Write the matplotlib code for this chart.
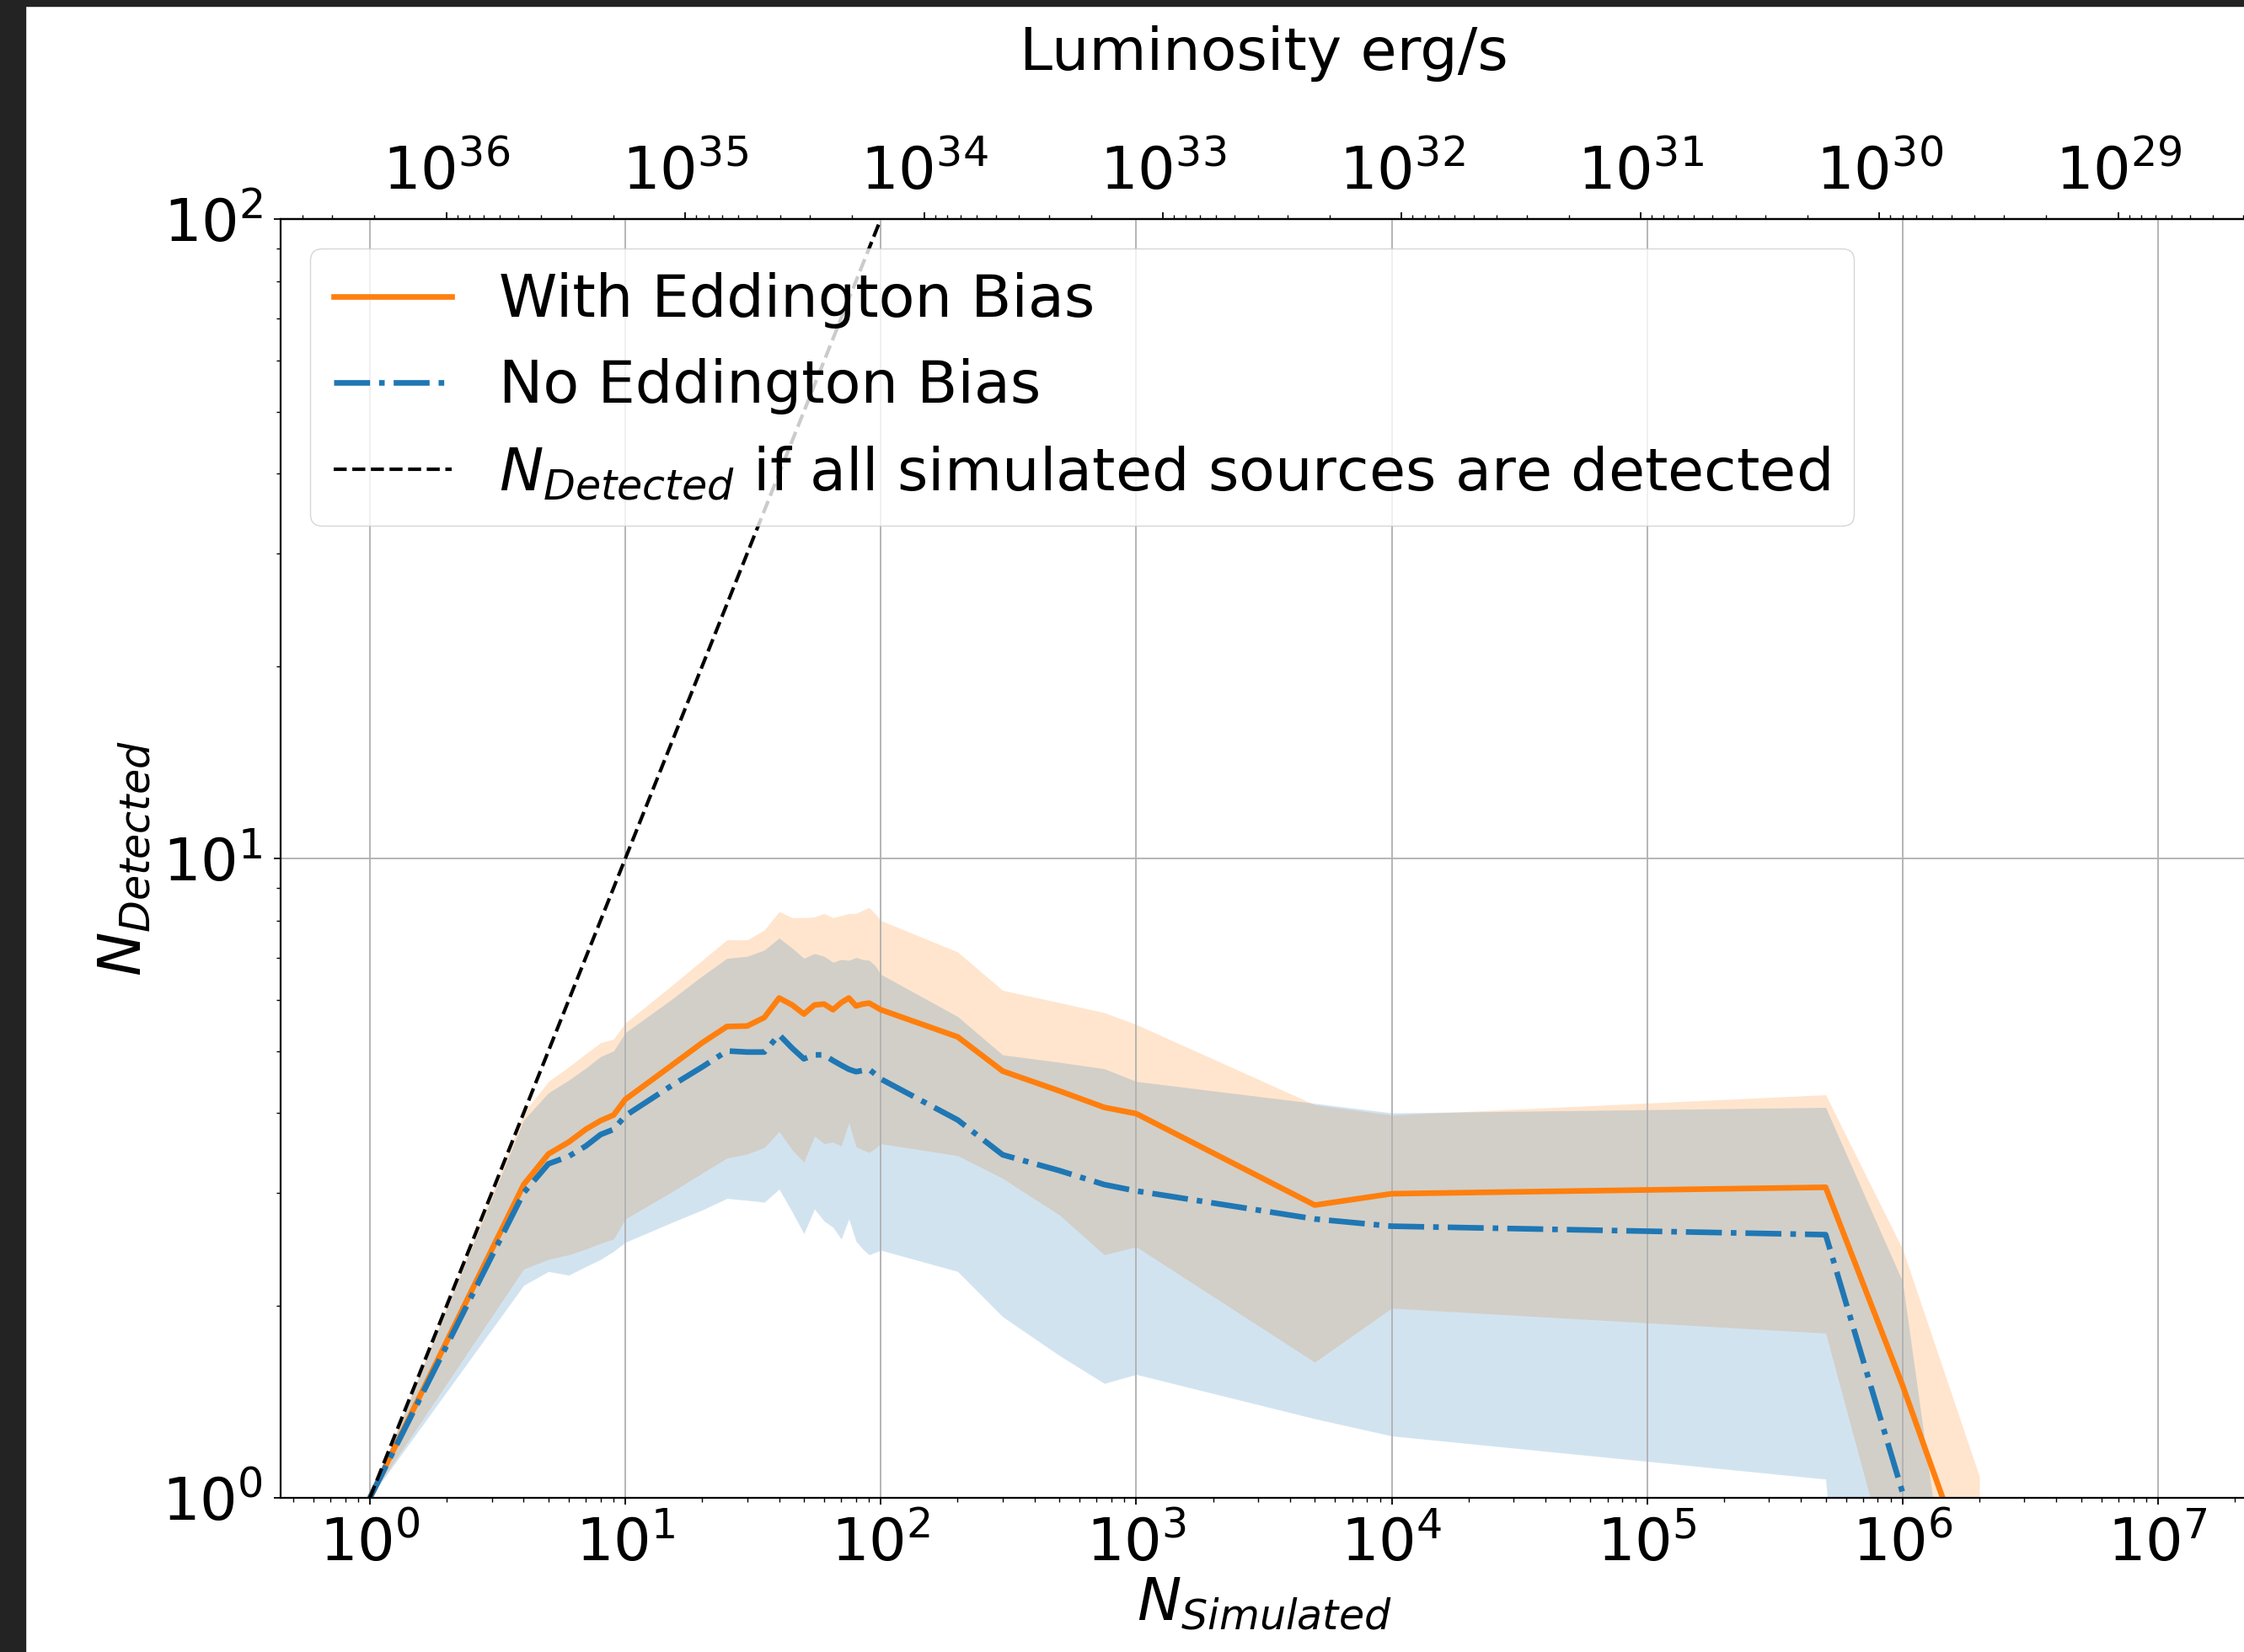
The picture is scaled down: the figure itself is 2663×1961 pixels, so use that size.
import numpy as np
import matplotlib.pyplot as plt
from matplotlib.patches import Rectangle

n_sim = [1, 4, 5, 6, 7, 8, 9, 10,
         15, 20, 25, 30, 35, 40, 45, 50, 55, 60, 65, 70, 75, 80, 85, 90, 95, 100,
         200, 300, 500, 750, 1000, 5000, 1e4, 5e5, 1e6, 2e6]

with_bias = [1, 3.09, 3.45, 3.6, 3.77, 3.89, 3.97, 4.2,
             4.73, 5.15, 5.46, 5.47, 5.64, 6.05, 5.9, 5.71, 5.9, 5.92, 5.8, 5.95, 6.05, 5.88, 5.92, 5.94, 5.87, 5.8,
             5.26, 4.65, 4.33, 4.08, 3.99, 2.87, 2.99, 3.06, 1.50, 0.69]
with_hi = [1, 4.0, 4.48, 4.72, 4.95, 5.15, 5.22, 5.53,
           6.3, 6.93, 7.46, 7.46, 7.73, 8.26, 8.08, 8.08, 8.1, 8.2, 8.08, 8.14, 8.2, 8.2, 8.3, 8.38, 8.2, 8.0,
           7.14, 6.22, 5.95, 5.74, 5.5, 4.12, 3.97, 4.27, 2.45, 1.08]
with_lo = [1, 2.28, 2.36, 2.40, 2.45, 2.5, 2.54, 2.73,
           3.0, 3.22, 3.40, 3.45, 3.53, 3.74, 3.5, 3.35, 3.68, 3.58, 3.6, 3.55, 3.86, 3.54, 3.5, 3.47, 3.52, 3.58,
           3.43, 3.16, 2.77, 2.40, 2.47, 1.63, 1.98, 1.81, 0.65, 0.3]

no_bias = [1, 3.0, 3.33, 3.42, 3.55, 3.7, 3.77, 3.96,
           4.4, 4.72, 5.0, 4.98, 4.98, 5.3, 5.05, 4.86, 4.93, 4.93, 4.83, 4.75, 4.68, 4.64, 4.66, 4.68, 4.6, 4.52,
           3.9, 3.44, 3.25, 3.09, 3.02, 2.73, 2.66, 2.58, 1.02, 0.3]
no_hi = [1, 3.9, 4.3, 4.5, 4.7, 4.9, 5.0, 5.34,
         6.0, 6.55, 6.98, 7.03, 7.19, 7.51, 7.24, 6.98, 7.1, 7.03, 6.88, 6.95, 6.93, 7.0, 6.95, 6.93, 6.8, 6.59,
         5.66, 4.93, 4.8, 4.69, 4.48, 4.14, 4.0, 4.08, 2.18, 0.3]
no_lo = [1, 2.15, 2.26, 2.23, 2.3, 2.36, 2.43, 2.51,
         2.69, 2.82, 2.94, 2.92, 2.9, 3.04, 2.8, 2.59, 2.83, 2.71, 2.65, 2.54, 2.73, 2.52, 2.45, 2.40, 2.42, 2.44,
         2.26, 1.92, 1.67, 1.51, 1.56, 1.33, 1.25, 1.07, 0.05, 0.05]

ideal_n = [1, 100]

# luminosity scale on top axis: log L = a - b log N
lum_a = 36.32
lum_b = 1.0695


def n_to_lum(n):
    with np.errstate(divide='ignore', invalid='ignore'):
        return 10 ** (lum_a - lum_b * np.log10(n))


def lum_to_n(lum):
    with np.errstate(divide='ignore', invalid='ignore'):
        return 10 ** ((lum_a - np.log10(lum)) / lum_b)


fs = 50.5
plt.rcParams['font.size'] = fs

fig = plt.figure(figsize=(26.63, 19.61), dpi=100)
ax = fig.add_axes([0.1250, 0.0933, 0.8765, 0.7741])

ax.fill_between(n_sim, with_lo, with_hi, color='C1', alpha=0.2, lw=0)
ax.fill_between(n_sim, no_lo, no_hi, color='C0', alpha=0.2, lw=0)
ax.plot(n_sim, with_bias, color='C1', lw=4.8, label='With Eddington Bias')
ax.plot(n_sim, no_bias, color='C0', lw=4.8, ls='-.', label='No Eddington Bias')
ax.plot(ideal_n, ideal_n, color='k', lw=3, ls='--',
        label='$N_{Detected}$ if all simulated sources are detected')

ax.set_xscale('log')
ax.set_yscale('log')
ax.set_xlim(10 ** -0.35, 10 ** 7.35)
ax.set_ylim(1, 100)
ax.grid(True, which='major', color='#b0b0b0', lw=1.3)

ax.set_xlabel('$N_{Simulated}$', fontsize=fs, labelpad=2)
ax.set_ylabel('$N_{Detected}$', fontsize=fs, labelpad=8)
ax.tick_params(which='major', length=6, width=1.3, labelsize=fs, pad=9)
ax.tick_params(which='minor', length=3.5, width=1.0)
for s in ax.spines.values():
    s.set_linewidth(1.6)

secax = ax.secondary_xaxis('top', functions=(n_to_lum, lum_to_n))
secax.set_xlabel('Luminosity erg/s', fontsize=fs, labelpad=63)
secax.tick_params(which='major', length=6, width=1.3, labelsize=fs, pad=9)
secax.tick_params(which='minor', length=3.5, width=1.0)
secax.spines['top'].set_linewidth(1.6)

ax.legend(loc='upper left', fontsize=fs)

# dark screenshot frame on left and top
fig.add_artist(Rectangle((0, 0), 30 / 2663, 1, transform=fig.transFigure,
                         color='#232323', zorder=10))
fig.add_artist(Rectangle((0, 1 - 7 / 1961), 1, 7 / 1961, transform=fig.transFigure,
                         color='#232323', zorder=10))

fig.savefig('out.png', dpi=100)
